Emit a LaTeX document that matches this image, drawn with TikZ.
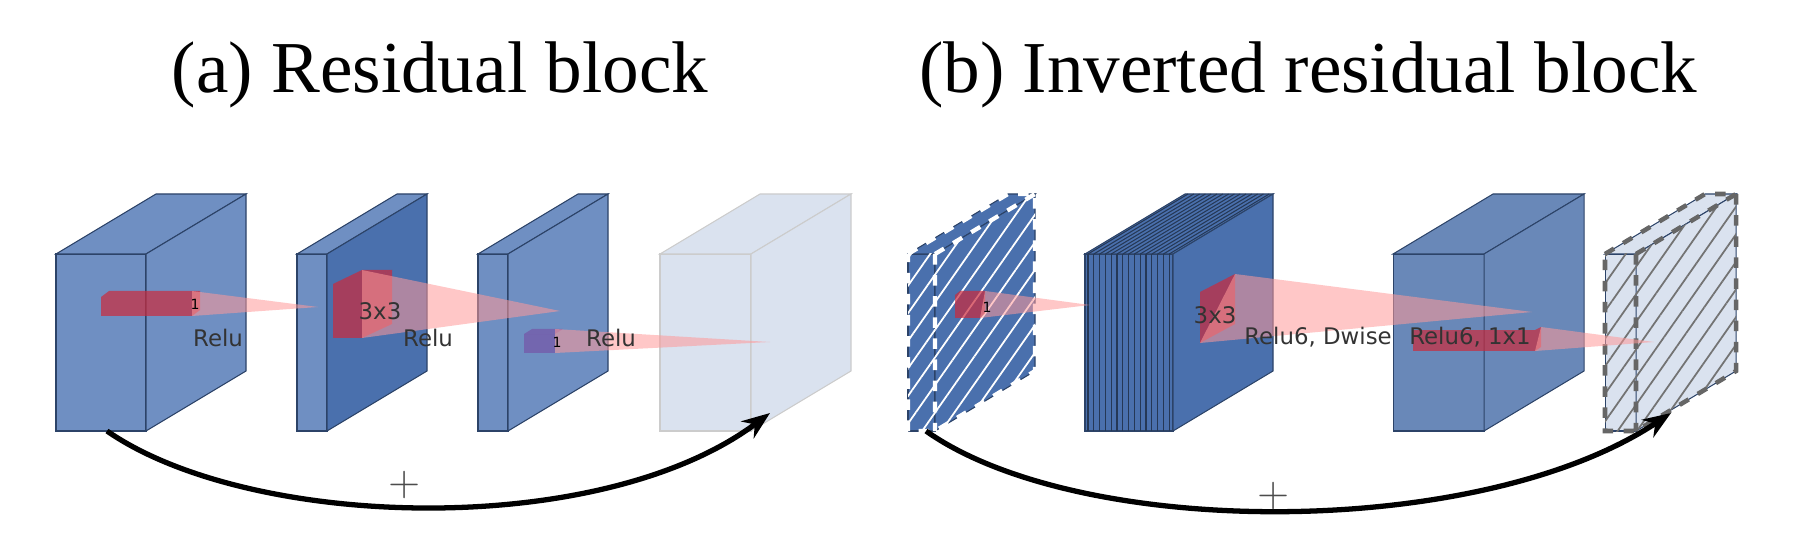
\documentclass[tikz,border=0pt]{standalone}
\usepackage{fontspec}
\newfontfamily\lblfont{DejaVu Sans}
\newfontfamily\ttlfont{Liberation Serif}
\usetikzlibrary{patterns.meta, arrows.meta}
\definecolor{blkfront}{HTML}{6F8FC2}
\definecolor{blkdark}{HTML}{4A70AD}
\definecolor{blklight}{HTML}{DAE2EF}
\definecolor{kern}{HTML}{CC2A3C}
\tikzset{face/.style = {draw=blkdark!60!black, line width=0.3pt, fill=#1}}
\tikzset{cone/.style = {fill=red!40, fill opacity=0.55, draw=none}}
\tikzset{kbox/.style = {fill=kern, fill opacity=0.7, draw=none}}
\tikzset{lbl/.style = {font=\lblfont\fontsize{6.5}{7}\selectfont, text=black!80, inner sep=0pt}}
\tikzset{small/.style = {font=\lblfont\fontsize{4}{4}\selectfont, inner sep=0pt}}
\tikzset{title/.style = {font=\ttlfont\fontsize{20.8}{25}\selectfont, inner sep=0pt}}
\tikzset{hatch/.style = {pattern={Lines[angle=55, distance=4.5pt, line width=0.5pt]}, pattern color=#1}}
\tikzset{skip/.style = {-{Stealth[length=8pt,width=6pt]}, line width=1.5pt}}
% slab: x, top y, width, front colour, side colour
\newcommand{\slab}[5]{%
  \fill[face=#4] (#1,254) rectangle ({#1+#3},431);
  \fill[face=#4] (#1,254) -- ({#1+100},194) -- ({#1+#3+100},194) -- ({#1+#3},254) -- cycle;
  \fill[face=#5] ({#1+#3},254) -- ({#1+#3+100},194) -- ({#1+#3+100},371) -- ({#1+#3},431) -- cycle;
}
\begin{document}
\begin{tikzpicture}[x=0.01cm, y=-0.01cm]
\useasboundingbox (0,0) rectangle (1795,534);

% TITLES
\node (ta) [title] at (440,75) {(a) Residual block};
\node (tb) [title] at (1308,75) {(b) Inverted residual block};

% (a) BLOCKS
\slab{56}{254}{90}{blkfront}{blkfront}
\slab{297}{254}{30}{blkfront}{blkdark}
\slab{478}{254}{30}{blkfront}{blkfront}
\begin{scope}[face/.append style={draw=black!20}]
\slab{660}{254}{91}{blklight}{blklight}
\end{scope}

% (a) kernels
\fill[kbox] (101,297) rectangle (192,316);
\fill[kbox] (101,297) -- (109,291) -- (200,291) -- (192,297) -- cycle;
\fill[kbox] (192,297) -- (200,291) -- (200,310) -- (192,316) -- cycle;
\fill[cone] (192,291) -- (318,307) -- (192,316) -- cycle;
\node (k1) [small] at (195,304) {1};
\fill[kbox] (333,284) rectangle (362,338);
\fill[kbox] (333,284) -- (362,270) -- (392,270) -- (362,284) -- cycle;
\fill[kbox] (362,284) -- (392,270) -- (392,324) -- (362,338) -- cycle;
\fill[cone] (362,270) -- (560,311) -- (362,338) -- cycle;
\node (k2) [lbl] at (380,311) {3x3};
\fill[kbox, fill=violet!40!blkfront] (524,334) rectangle (555,353);
\fill[kbox, fill=violet!40!blkfront] (524,334) -- (532,329) -- (563,329) -- (555,334) -- cycle;
\fill[cone] (555,329) -- (770,342) -- (555,353) -- cycle;
\node (k3) [small] at (557,342) {1};
\node (r1) [lbl] at (218,338) {Relu};
\node (r2) [lbl] at (428,338) {Relu};
\node (r3) [lbl] at (611,338) {Relu};

% (a) shortcut
\coordinate (sa) at (107,431);
\coordinate (ea) at (770,413);
\draw [skip] (sa) .. controls (250,530) and (600,540) .. (ea);
\node (pa) [font=\fontsize{12}{12}\selectfont, text=black!70] at (405,485) {+};

% (b) BLOCKS
\slab{908}{254}{27}{blkdark}{blkdark}
\fill[hatch=white] (908,254) rectangle (935,431);
\fill[hatch=white] (935,254) -- (1035,194) -- (1035,371) -- (935,431) -- cycle;
\draw[white, dashed, line width=1.2pt] (908,254) -- (1008,194) -- (1035,194) -- (1035,371) -- (935,431) -- (908,431) -- cycle (935,254) -- (935,431) (935,254) -- (1035,194);
\slab{1085}{254}{88}{blkdark}{blkdark}
\foreach \i in {0,...,14} {
  \draw[blkdark!50!black, line width=0.3pt] ({1088+\i*5.8},254) -- ({1088+\i*5.8},431);
  \draw[blkdark!50!black, line width=0.3pt] ({1088+\i*5.8},254) -- ({1188+\i*5.8},194);
}
\slab{1393}{254}{91}{blkfront!95!black}{blkfront!95!black}
\slab{1605}{254}{31}{blklight}{blklight}
\fill[hatch=black!55] (1605,254) rectangle (1636,431);
\fill[hatch=black!55] (1636,254) -- (1736,194) -- (1736,371) -- (1636,431) -- cycle;
\draw[black!60, dashed, line width=1.3pt] (1605,254) -- (1705,194) -- (1736,194) -- (1736,371) -- (1636,431) -- (1605,431) -- cycle (1636,254) -- (1636,431) (1636,254) -- (1736,194);

% (b) kernels
\fill[kbox] (955,295) rectangle (980,318);
\fill[kbox] (955,295) -- (960,291) -- (985,291) -- (980,295) -- cycle;
\fill[kbox] (980,295) -- (985,291) -- (985,313) -- (980,318) -- cycle;
\fill[cone] (985,291) -- (1090,305) -- (980,318) -- cycle;
\node (k4) [small] at (987,307) {1};
\fill[kbox] (1200,292) -- (1235,274) -- (1235,324) -- (1200,343) -- cycle;
\fill[cone] (1235,274) -- (1532,312) -- (1200,343) -- cycle;
\node (k5) [lbl] at (1215,315) {3x3};
\fill[kbox] (1413,330) rectangle (1535,351);
\fill[kbox] (1535,330) -- (1541,327) -- (1541,347) -- (1535,351) -- cycle;
\fill[cone] (1541,327) -- (1654,342) -- (1535,351) -- cycle;
\node (r4) [lbl] at (1318,337) {Relu6, Dwise};
\node (r5) [lbl] at (1470,337) {Relu6, 1x1};

% (b) shortcut
\coordinate (sb) at (926,431);
\coordinate (eb) at (1671,413);
\draw [skip] (sb) .. controls (1080,540) and (1480,540) .. (eb);
\node (pb) [font=\fontsize{12}{12}\selectfont, text=black!70] at (1274,496) {+};
\end{tikzpicture}
\end{document}
